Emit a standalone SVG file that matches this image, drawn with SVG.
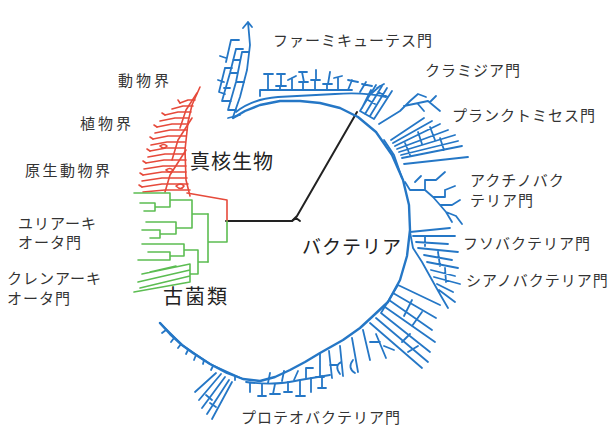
<svg xmlns="http://www.w3.org/2000/svg" width="611" height="432" viewBox="0 0 611 432">
<style>
.b{fill:none;stroke:#2577c6;stroke-width:1.8;stroke-linecap:round;stroke-linejoin:round}
.bt{fill:none;stroke:#2577c6;stroke-width:2.4;stroke-linecap:round;stroke-linejoin:round}
.r{fill:none;stroke:#e64a3b;stroke-width:1.6;stroke-linecap:round;stroke-linejoin:round}
.g{fill:none;stroke:#5cbd52;stroke-width:1.6;stroke-linecap:round;stroke-linejoin:round}
.k{fill:none;stroke:#222;stroke-width:2;stroke-linecap:round;stroke-linejoin:round}
.s{font-family:"Noto Sans CJK JP","Noto Sans",sans-serif;font-size:15px;fill:#333;letter-spacing:1px}
.L{font-family:"Noto Sans CJK JP","Noto Sans",sans-serif;font-size:20px;fill:#222;letter-spacing:1px}
</style>
<rect width="611" height="432" fill="#fff"/>

<g id="connectors">
<path class="k" d="M226,221 H292 L297,216 L357,112"/>
<path class="k" d="M292,221 L296,218 L300,221" stroke-width="1.4"/>
</g>

<g id="eukarya">
<path class="r" d="M227,221 V200 L187,193"/>
<path class="r" d="M200,87 L192,105 L188,122 L185,150 L186,180 L190,196"/>
<path class="r" d="M197,93 L186,110 L180,128 M192,118 L178,140 L172,160 M186,150 L170,175 L165,192"/>
<path class="r" d="M180,103 L188,100 L195,100 M172,109 L183,106 L193,106 M165,115 L178,112 L191,112 M160,121 L175,118 L189,118 M157,127 L172,124 L188,124 M155,133 L170,130 L187,130 M153,139 L168,136 L186,136 M151,145 L167,142 L185,142 M150,151 L166,148 L185,148 M148,157 L165,154 L185,154 M146,163 L164,160 L186,160 M144,169 L163,166 L186,166 M143,175 L162,172 L186,172 M142,181 L162,178 L187,178 M142,187 L162,184 L188,184 M143,192 L165,190 L190,190"/>
<path class="r" d="M180,103 l-2,-3 M165,115 l-3,-2 M157,127 l-3,-2 M153,139 l-3,-2 M150,151 l-3,-2 M146,163 l-3,-2 M143,175 l-3,-2 M142,187 l-3,-2 M176,186 q5,-4 8,0 q-3,5 -8,0 M166,170 q4,-3 7,0 q-3,4 -7,0 M160,146 q4,-3 7,0 q-3,4 -7,0"/>
</g>

<g id="archaea">
<path class="g" d="M227,221 V242 H208 M208,214 V262"/>
<path class="g" d="M208,214 H192 M192,200 V228 M192,200 H170 M170,193 V207 M170,193 H134 M170,207 H155 M155,203 V211 M155,203 H140 M155,211 H144 M192,228 H176 M176,222 V234 M176,222 H146 M176,234 H160 M160,230 V238 M160,230 H142 M160,238 H150"/>
<path class="g" d="M208,262 H198 M198,250 V274 M198,250 H184 M184,244 V256 M184,244 H142 M184,256 H170 M170,252 V260 M170,252 H148 M170,260 H138 M198,274 H190 M190,264 V282 M190,264 L142,274 M190,270 L138,282 M190,276 L140,288 M190,282 L134,292 M176,266 L150,272"/>
</g>

<g id="bacteria">
<polyline class="bt" points="160,323 170,334 182,345 193,353 210,364 227,373 243,379 260,381 275,377 290,370 305,362 320,353 343,340 360,328 373,316 388,302 400,280 407,256 410,230 409,205 403,180 392,155 376,132 358,117 340,108 320,103 300,101 280,101 260,105 245,111 233,118"/>
<path class="b" d="M384,140 L394,155 L402,178" stroke-width="4.5"/>
<path class="b" d="M160,323 L182,345 L210,364 L243,379" stroke-width="3.2"/>
<path class="b" d="M166,330 l-4,3 M174,338 l-3,4 M181,344 l-3,4 M188,350 l-2,4 M196,355 l-2,5 M204,360 l-1,4 M213,366 l-2,4 M235,376 l0,4"/>
<path class="b" d="M233,117 L240,97 L247,70 L250,45 L248,22 M243,28 L248,22 L252,27"/>
<path class="b" d="M228,110 L236,82 L242,52 M222,101 L230,73 L236,49 M219,92 L225,68 M226,62 L231,40 M228,110 H236 M222,101 H231 M236,82 H244 M230,73 H238 M242,52 H249 M236,49 H243 M225,68 H232 M231,40 H239 M219,92 L225,94 M218,80 L224,82 M220,56 L226,58 M228,118 L240,115 M224,88 H230 M233,60 H240"/>
<path class="b" d="M236,112 Q252,99 278,97 L335,94 Q365,92 386,97"/>
<path class="b" d="M260,96 V90 H352"/>
<path class="b" d="M268,90 V74 M264,74 H273 M280,90 V86 M276,86 H286 M281,86 V74 M277,74 H285 M292,90 V78 M288,80 L296,76 M303,90 V82 M299,82 H308 M304,82 L302,72 M299,72 H307 M315,90 V80 M311,80 H320 M316,80 V70 M327,90 V84 M323,84 H332 M328,84 L330,72 M338,90 V78 M334,78 L342,76 M348,90 L352,80 M348,80 L358,82 M360,92 L366,82 M362,84 L372,86 M372,93 L380,86 M377,88 L384,84"/>
<path class="b" d="M360,111 L376,85 M365,114 L382,86 M370,116 L387,88 M374,119 L392,91 M362,108 L371,90 M360,111 L374,119 M368,100 L375,104 M378,92 L388,97"/>
<path class="b" d="M379,124 L400,111 L410,101 M404,106 L428,101 L440,111 M410,101 L418,94 L426,97 M418,104 L424,111 M430,102 L436,96"/>
<path class="b" d="M391,140 L424,118 M393,143 L432,121 M395,146 L440,124 M397,149 L448,130 M399,152 L455,135 M401,155 L458,141 M402,158 L462,146 M404,164 L468,157 M405,143 L410,155 M418,132 L422,144 M430,127 L435,140 M440,138 L444,150"/>
<path class="b" d="M405,182 L410,190 H425 V180 H436 M425,190 L433,197 H445 V190 M433,197 L440,205 H452 M440,205 L446,212 L456,216 M436,180 L445,172 M445,190 L455,186 M452,205 L460,200 M415,182 L421,176 M446,212 L452,222 M456,216 L462,224"/>
<path class="b" d="M410,232 L450,228 M413,236 L455,236 M416,242 L448,244 M418,248 L458,252 M424,255 L452,260 M427,262 L458,268 M431,270 L455,276 M434,277 L460,284 M437,284 L453,292 M439,290 L455,302 M441,296 L448,308 M410,232 L413,248 L422,262 L432,280 L441,296 M425,236 V246 M438,252 L440,266 M445,268 L446,282"/>
<path class="b" d="M398,285 L440,305 M393,293 L436,318 M389,300 L432,330 M385,307 L435,342 M381,313 L430,352 M376,318 L428,362 M370,323 L422,368 M398,285 L381,313 M412,300 L404,316 M422,312 L412,326 M410,334 L402,342 M418,346 L408,352"/>
<path class="b" d="M363,330 L370,360 M370,342 H380 M376,334 L386,358 M384,346 L394,350 M352,338 L358,372 M353,360 Q347,368 355,373 M340,346 L343,376 M341,362 Q334,366 340,374 M329,351 L332,378 M330,365 H338 M320,354 V377 M316,377 H324"/>
<path class="b" d="M246,382 Q275,386 300,380 L330,375"/>
<path class="b" d="M250,383 V392 M262,384 V396 M258,396 H266 M275,384 L273,394 M270,394 H280 M288,382 V392 M284,392 H292 M300,380 V396 M296,396 H305 M311,378 V392 M322,376 V388 M318,388 H326 M268,383 L270,373 M282,381 L284,371 M294,380 L298,371 M306,378 V368 H313"/>
<path class="b" d="M221,374 L199,400 M225,377 L202,408 M229,380 L207,414 M232,382 L212,419 M216,373 L195,392 M206,395 L212,400 M210,403 L216,407"/>
</g>

<g id="labels">
<text class="s" x="273" y="46">ファーミキューテス門</text>
<text class="s" x="425" y="76">クラミジア門</text>
<text class="s" x="452" y="121">プランクトミセス門</text>
<text class="s" x="470" y="186">アクチノバク</text>
<text class="s" x="470" y="206">テリア門</text>
<text class="s" x="463" y="249">フソバクテリア門</text>
<text class="s" x="466" y="286">シアノバクテリア門</text>
<text class="s" x="241" y="423">プロテオバクテリア門</text>
<text class="s" x="118" y="86" style="letter-spacing:3px">動物界</text>
<text class="s" x="80" y="129" style="letter-spacing:3px">植物界</text>
<text class="s" x="25" y="176" style="letter-spacing:2.5px">原生動物界</text>
<text class="s" x="18" y="229">ユリアーキ</text>
<text class="s" x="18" y="248">オータ門</text>
<text class="s" x="7" y="284">クレンアーキ</text>
<text class="s" x="7" y="304">オータ門</text>
<text class="L" x="190" y="169">真核生物</text>
<text class="L" x="163" y="304" style="letter-spacing:2px">古菌類</text>
<text class="L" x="302" y="254" style="font-size:19px">バクテリア</text>
</g>
</svg>
